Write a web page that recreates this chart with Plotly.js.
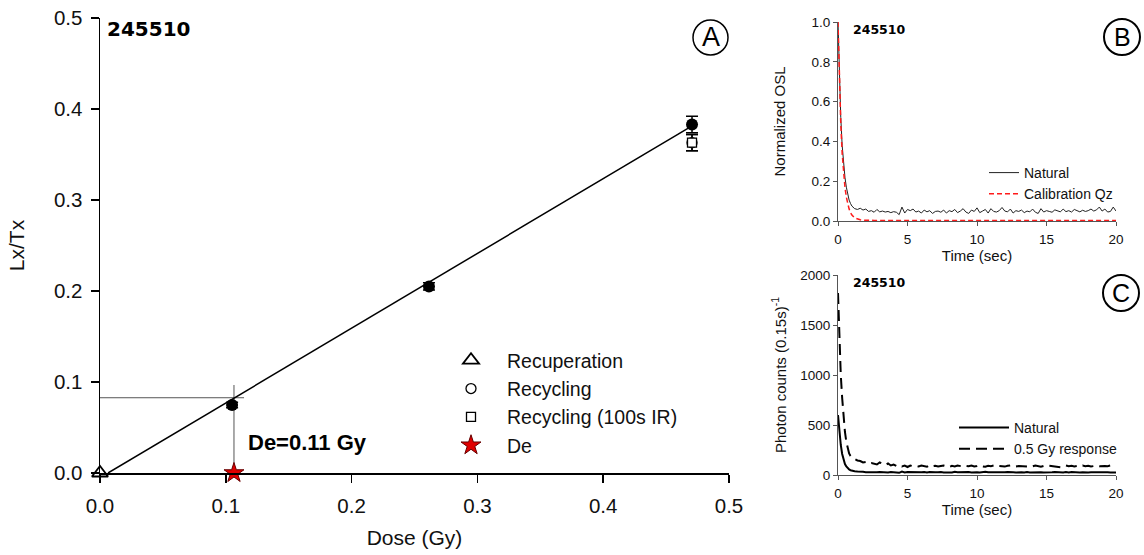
<!DOCTYPE html>
<html>
<head>
<meta charset="utf-8">
<script src="https://cdn.plot.ly/plotly-3.0.1.min.js"></script>
<style>html,body{margin:0;padding:0;background:#fff;}#chart{width:1144px;height:555px;}</style>
</head>
<body>
<div id="chart"></div>
<script>
// ---------- Panel A: dose response ----------
const regenDose = [0.105, 0.2615, 0.4706];
const regenLxTx = [0.0747, 0.205, 0.383];
const regenErr  = [0.003, 0.004, 0.009];

const recupDose = [0.0];
const recupLxTx = [0.0];

const recycDose = [0.4706];
const recycLxTx = [0.363];
const recycErr  = [0.009];

const recycIRDose = [0.4706];
const recycIRLxTx = [0.363];
const recycIRErr  = [0.009];

const deDose = [0.1065];
const deLxTx = [0.0];

const fitDose = [0.0064, 0.47];
const fitLxTx = [0.0, 0.381];

const deHLineDose = [0.0, 0.1145];
const deHLineLxTx = [0.0827, 0.0827];
const deVLineDose = [0.1065, 0.1065];
const deVLineLxTx = [0.0, 0.0967];

const sampleName = "245510";
const deLabel = "De=0.11 Gy";

// ---------- Panels B & C: decay curves ----------
const timeSec = [0,0.1,0.2,0.3,0.4,0.5,0.6,0.7,0.8,0.9,1.0,
 1.2,1.4,1.6,1.8,2.0,2.2,2.4,2.6,2.8,3.0,
 3.2,3.4,3.6,3.8,4.0,4.2,4.4,4.6,4.8,5.0,
 5.2,5.4,5.6,5.8,6.0,6.2,6.4,6.6,6.8,7.0,
 7.2,7.4,7.6,7.8,8.0,8.2,8.4,8.6,8.8,9.0,
 9.2,9.4,9.6,9.8,10.0,10.2,10.4,10.6,10.8,11.0,
 11.2,11.4,11.6,11.8,12.0,12.2,12.4,12.6,12.8,13.0,
 13.2,13.4,13.6,13.8,14.0,14.2,14.4,14.6,14.8,15.0,
 15.2,15.4,15.6,15.8,16.0,16.2,16.4,16.6,16.8,17.0,
 17.2,17.4,17.6,17.8,18.0,18.2,18.4,18.6,18.8,19.0,
 19.2,19.4,19.6,19.8,20.0];

const oslNatural = [1.0,0.72,0.52,0.38,0.29,0.22,0.17,0.13,0.105,0.088,0.075,
 0.062,0.058,0.064,0.055,0.060,0.048,0.052,0.044,0.058,0.046,
 0.050,0.045,0.048,0.042,0.047,0.044,0.032,0.070,0.040,0.058,
 0.052,0.060,0.045,0.050,0.040,0.055,0.046,0.052,0.038,0.048,
 0.050,0.044,0.055,0.040,0.052,0.047,0.058,0.042,0.050,0.062,
 0.045,0.038,0.055,0.048,0.066,0.042,0.050,0.058,0.040,0.062,
 0.048,0.045,0.052,0.068,0.050,0.046,0.060,0.040,0.052,0.048,
 0.055,0.042,0.050,0.046,0.060,0.044,0.038,0.062,0.045,0.052,
 0.048,0.044,0.056,0.050,0.046,0.060,0.047,0.052,0.045,0.058,
 0.050,0.046,0.054,0.048,0.052,0.060,0.050,0.056,0.070,0.050,
 0.060,0.045,0.048,0.070,0.050];

const oslCalibQz = [1.0,0.70,0.49,0.34,0.24,0.17,0.12,0.085,0.06,0.042,0.03,
 0.016,0.009,0.006,0.004,0.003,0.003,0.003,0.003,0.003,0.003,
 0.003,0.003,0.003,0.003,0.003,0.003,0.003,0.003,0.003,0.003,
 0.003,0.003,0.003,0.003,0.003,0.003,0.003,0.003,0.003,0.003,
 0.003,0.003,0.003,0.003,0.003,0.003,0.003,0.003,0.003,0.003,
 0.003,0.003,0.003,0.003,0.003,0.003,0.003,0.003,0.003,0.003,
 0.003,0.003,0.003,0.003,0.003,0.003,0.003,0.003,0.003,0.003,
 0.003,0.003,0.003,0.003,0.003,0.003,0.003,0.003,0.003,0.003,
 0.003,0.003,0.003,0.003,0.003,0.003,0.003,0.003,0.003,0.003,
 0.003,0.003,0.003,0.003,0.003,0.003,0.003,0.003,0.003,0.003,
 0.003,0.003,0.003,0.003,0.003];

const countsNatural = [600,420,300,210,150,110,85,66,55,48,42,
 38,35,30,32,28,26,30,25,27,30,
 28,24,26,30,27,25,22,35,26,30,
 28,26,30,24,27,29,25,31,26,28,
 27,30,24,28,26,25,32,27,29,24,
 28,31,26,30,27,25,29,33,27,26,
 30,26,28,24,27,31,26,28,25,29,
 27,24,30,26,28,25,32,27,26,29,
 25,28,30,26,27,24,29,26,31,27,
 28,25,27,30,26,28,29,24,27,30,
 26,28,25,27,26];

const counts05Gy = [1820,1350,1000,770,580,430,330,260,215,190,175,
 160,145,140,125,130,115,120,110,105,125,
 110,100,115,95,105,90,100,85,95,80,
 95,88,92,85,95,90,82,98,88,92,
 85,90,95,88,80,92,86,95,90,84,
 92,88,95,85,90,98,86,82,92,88,
 95,85,90,88,84,92,96,88,85,90,
 88,92,84,90,86,95,88,82,90,86,
 92,88,85,80,78,90,95,88,92,85,
 90,86,95,88,92,85,90,94,88,92,
 90,88,95,92,96];

const FONT = "Liberation Sans, Arial, sans-serif";
const BOLDFONT = "DejaVu Sans, Liberation Sans, sans-serif";

const traces = [
  // De crosshair
  {x: deHLineDose, y: deHLineLxTx, mode:'lines', line:{color:'#555', width:1}, showlegend:false, hoverinfo:'skip', xaxis:'x', yaxis:'y'},
  {x: deVLineDose, y: deVLineLxTx, mode:'lines', line:{color:'#555', width:1}, showlegend:false, hoverinfo:'skip', xaxis:'x', yaxis:'y'},
  // fit line
  {x: fitDose, y: fitLxTx, mode:'lines', line:{color:'#000', width:1.5}, showlegend:false, xaxis:'x', yaxis:'y'},
  // regenerated points
  {x: regenDose, y: regenLxTx, mode:'markers', marker:{symbol:'circle', size:12, color:'#000'},
   error_y:{type:'data', array: regenErr, color:'#000', thickness:1.5, width:6},
   showlegend:false, xaxis:'x', yaxis:'y'},
  // legend traces
  {x: recupDose, y: recupLxTx, name:'Recuperation', legendgroup:'a1', mode:'markers', cliponaxis:false,
   marker:{symbol:'triangle-up', size:14, color:'#fff', line:{color:'#000', width:1.8}}, legend:'legend', xaxis:'x', yaxis:'y'},
  {x: recycDose, y: recycLxTx, name:'Recycling', legendgroup:'a2', mode:'markers',
   marker:{symbol:'circle', size:10, color:'#fff', line:{color:'#000', width:1.3}},
   error_y:{type:'data', array: recycErr, color:'#000', thickness:1.5, width:6}, legend:'legend', xaxis:'x', yaxis:'y'},
  {x: recycIRDose, y: recycIRLxTx, name:'Recycling (100s IR)', legendgroup:'a3', mode:'markers',
   marker:{symbol:'square', size:9, color:'#fff', line:{color:'#000', width:1.3}},
   error_y:{type:'data', array: recycIRErr, color:'#000', thickness:1.5, width:6}, legend:'legend', xaxis:'x', yaxis:'y'},
  {x: deDose, y: deLxTx, name:'De', legendgroup:'a4', mode:'markers', cliponaxis:false,
   marker:{symbol:'star', size:15, color:'#e00000', line:{color:'#600', width:1}}, legend:'legend', xaxis:'x', yaxis:'y'},
  // Panel B
  {x: timeSec, y: oslNatural, name:'Natural', mode:'lines', line:{color:'#222', width:1}, legend:'legend2', xaxis:'x2', yaxis:'y2'},
  {x: timeSec, y: oslCalibQz, name:'Calibration Qz', mode:'lines', line:{color:'#ff1a1a', width:1.5, dash:'5px,3px'}, legend:'legend2', xaxis:'x2', yaxis:'y2'},
  // Panel C
  {x: timeSec, y: countsNatural, name:'Natural', mode:'lines', line:{color:'#000', width:2}, legend:'legend3', xaxis:'x3', yaxis:'y3'},
  {x: timeSec, y: counts05Gy, name:'0.5 Gy response', mode:'lines', line:{color:'#000', width:2, dash:'11px,6px'}, legend:'legend3', xaxis:'x3', yaxis:'y3'}
];

const W = 1144, H = 555;
const px = v => v / W;
const py = v => 1 - v / H;

const smallAxis = {
  showline:true, linecolor:'#555', linewidth:1, ticks:'outside', ticklen:4, tickwidth:1, tickcolor:'#555',
  showgrid:false, zeroline:false, tickfont:{family:FONT, size:13.5, color:'#111'}
};

const layout = {
  width: W, height: H,
  margin:{l:0, r:0, t:0, b:0},
  paper_bgcolor:'#fff', plot_bgcolor:'#fff',
  font:{family:FONT, color:'#111'},
  xaxis:{domain:[px(100), px(729)], range:[0,0.5], dtick:0.1, tickformat:'.1f',
    showline:true, linecolor:'#000', linewidth:1.5, ticks:'outside', ticklen:8, tickwidth:1.5, tickcolor:'#000',
    showgrid:false, zeroline:false, tickfont:{family:FONT, size:20.5, color:'#111'}, ticklabelstandoff:6,
    title:{text:'Dose (Gy)', font:{family:FONT, size:21, color:'#111'}, standoff:14}, anchor:'y'},
  yaxis:{domain:[py(473), py(18)], range:[0,0.5], dtick:0.1, tickformat:'.1f',
    showline:true, linecolor:'#000', linewidth:1.5, ticks:'outside', ticklen:8, tickwidth:1.5, tickcolor:'#000',
    showgrid:false, zeroline:false, tickfont:{family:FONT, size:20.5, color:'#111'}, ticklabelstandoff:4,
    title:{text:'Lx/Tx', font:{family:FONT, size:21, color:'#111'}, standoff:23}, anchor:'x'},
  xaxis2:Object.assign({}, smallAxis, {domain:[px(838), px(1116)], range:[0,20], dtick:5, anchor:'y2', ticklabelstandoff:2,
    title:{text:'Time (sec)', font:{family:FONT, size:15, color:'#111'}, standoff:3}}),
  yaxis2:Object.assign({}, smallAxis, {domain:[py(221), py(22)], range:[0,1.0], dtick:0.2, tickformat:'.1f', anchor:'x2',
    title:{text:'Normalized OSL', font:{family:FONT, size:15, color:'#111'}, standoff:22}}),
  xaxis3:Object.assign({}, smallAxis, {domain:[px(838), px(1116)], range:[0,20], dtick:5, anchor:'y3', ticklabelstandoff:2,
    title:{text:'Time (sec)', font:{family:FONT, size:15, color:'#111'}, standoff:3}}),
  yaxis3:Object.assign({}, smallAxis, {domain:[py(475), py(275)], range:[0,2000], dtick:500, anchor:'x3',
    title:{text:'Photon counts (0.15s)<sup>-1</sup>', font:{family:FONT, size:15, color:'#111'}, standoff:10}}),
  legend:{x:px(435), y:py(341), xanchor:'left', yanchor:'top', bgcolor:'rgba(0,0,0,0)',
    font:{family:FONT, size:19.5, color:'#111'}, tracegroupgap:0, itemsizing:'trace', itemwidth:62},
  legend2:{x:px(984), y:py(157), xanchor:'left', yanchor:'top', bgcolor:'rgba(0,0,0,0)',
    font:{family:FONT, size:14, color:'#111'}, tracegroupgap:0},
  legend3:{x:px(954), y:py(412), xanchor:'left', yanchor:'top', bgcolor:'rgba(0,0,0,0)',
    font:{family:FONT, size:14, color:'#111'}, tracegroupgap:0, itemwidth:50},
  annotations:[
    {xref:'paper', yref:'paper', x:px(105), y:py(29), xanchor:'left', yanchor:'middle', showarrow:false,
     text:'<b>'+sampleName+'</b>', font:{family:BOLDFONT, size:20, color:'#000'}},
    {xref:'x', yref:'y', x:0.116, y:0.034, xanchor:'left', yanchor:'middle', showarrow:false,
     text:'<b>'+deLabel+'</b>', font:{family:FONT, size:22, color:'#000'}},
    {xref:'paper', yref:'paper', x:px(851), y:py(29), xanchor:'left', yanchor:'middle', showarrow:false,
     text:'<b>'+sampleName+'</b>', font:{family:BOLDFONT, size:12.5, color:'#000'}},
    {xref:'paper', yref:'paper', x:px(851), y:py(282), xanchor:'left', yanchor:'middle', showarrow:false,
     text:'<b>'+sampleName+'</b>', font:{family:BOLDFONT, size:12.5, color:'#000'}},
    {xref:'paper', yref:'paper', x:px(710.5), y:py(37.5), xanchor:'center', yanchor:'middle', showarrow:false,
     text:'A', font:{family:FONT, size:27, color:'#000'}},
    {xref:'paper', yref:'paper', x:px(1122), y:py(37), xanchor:'center', yanchor:'middle', showarrow:false,
     text:'B', font:{family:FONT, size:25, color:'#000'}},
    {xref:'paper', yref:'paper', x:px(1121), y:py(293), xanchor:'center', yanchor:'middle', showarrow:false,
     text:'C', font:{family:FONT, size:25, color:'#000'}}
  ],
  shapes:[
    {type:'circle', xref:'paper', yref:'paper', x0:px(693), x1:px(728), y0:py(20), y1:py(55), line:{color:'#000', width:1.5}},
    {type:'circle', xref:'paper', yref:'paper', x0:px(1104), x1:px(1140), y0:py(19), y1:py(55), line:{color:'#000', width:2}},
    {type:'circle', xref:'paper', yref:'paper', x0:px(1103), x1:px(1139), y0:py(275), y1:py(311), line:{color:'#000', width:2}}
  ],
  showlegend:true
};

Plotly.newPlot('chart', traces, layout, {staticPlot:true, displayModeBar:false});
</script>
</body>
</html>
